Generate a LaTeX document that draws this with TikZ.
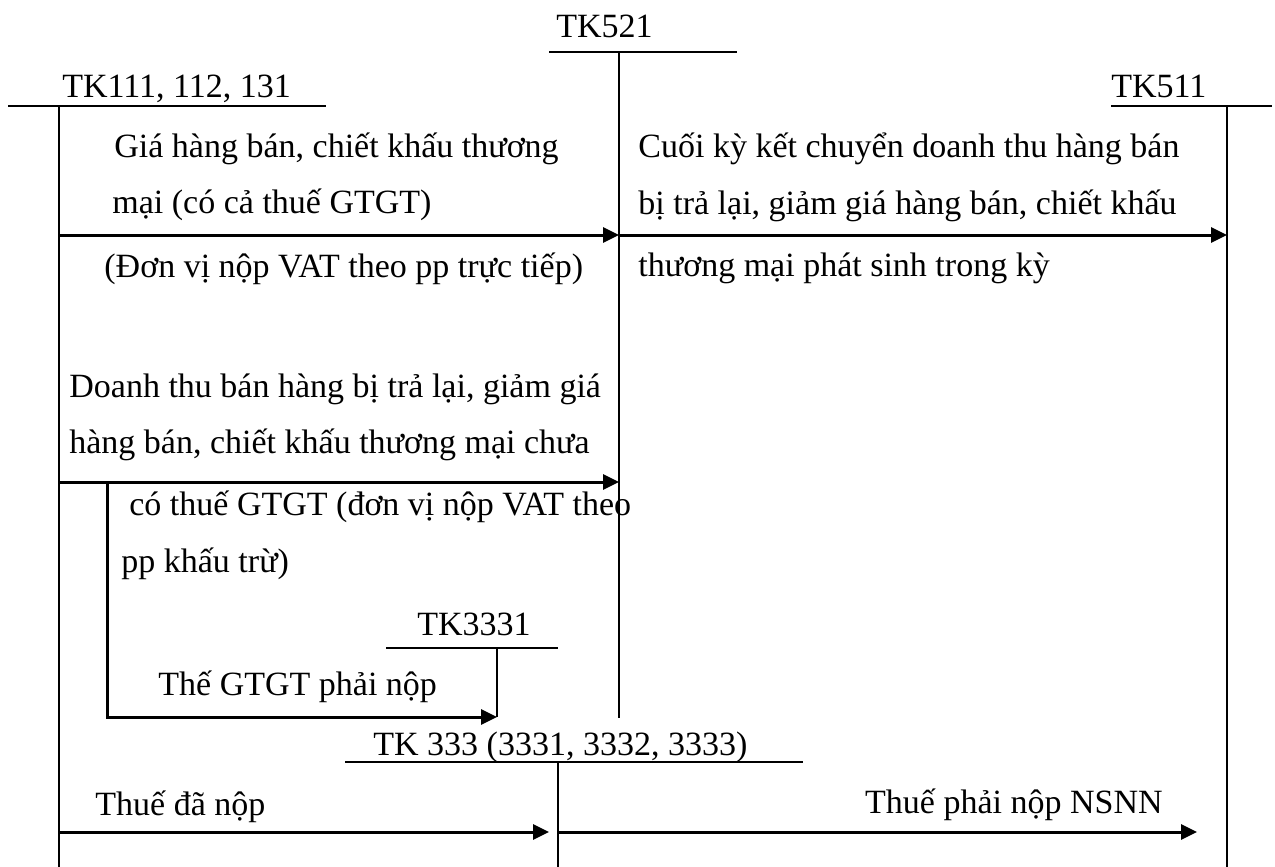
\documentclass[tikz,border=0pt]{standalone}
\usepackage{fontspec}
\setmainfont{Liberation Serif}
\usetikzlibrary{arrows.meta}
\begin{document}
\begin{tikzpicture}[x=0.5pt,y=-0.5pt,
  txt/.style={font=\fontsize{17}{20}\selectfont, inner sep=0pt, anchor=base west},
  acct/.style={line width=1pt},
  flow/.style={line width=1.5pt, -{Triangle[length=8pt,width=7.5pt]}},
  plain/.style={line width=1.5pt}]
\useasboundingbox (0,0) rectangle (1275,867);
% ---- T accounts
% TK521
\coordinate (t521l) at (549,52); \coordinate (t521r) at (737,52);
\coordinate (t521t) at (619,52); \coordinate (t521b) at (619,718);
\draw[acct] (t521l) -- (t521r);
\draw[acct] (t521t) -- (t521b);
\node[txt] (l521) at (556,37) {TK521};
% TK111
\coordinate (t111l) at (8,106); \coordinate (t111r) at (326,106);
\coordinate (t111t) at (59,106); \coordinate (t111b) at (59,867);
\draw[acct] (t111l) -- (t111r);
\draw[acct] (t111t) -- (t111b);
\node[txt] (l111) at (62,97) {TK111, 112, 131};
% TK511
\coordinate (t511l) at (1111,106); \coordinate (t511r) at (1272,106);
\coordinate (t511t) at (1227,106); \coordinate (t511b) at (1227,867);
\draw[acct] (t511l) -- (t511r);
\draw[acct] (t511t) -- (t511b);
\node[txt] (l511) at (1111,97) {TK511};
% TK3331
\coordinate (t3331l) at (386,648); \coordinate (t3331r) at (558,648);
\coordinate (t3331t) at (497,648); \coordinate (t3331b) at (497,717);
\draw[acct] (t3331l) -- (t3331r);
\draw[acct] (t3331t) -- (t3331b);
\node[txt] (l3331) at (417,635) {TK3331};
% TK333
\coordinate (t333l) at (345,762); \coordinate (t333r) at (803,762);
\coordinate (t333t) at (558,762); \coordinate (t333b) at (558,867);
\draw[acct] (t333l) -- (t333r);
\draw[acct] (t333t) -- (t333b);
\node[txt] (l333) at (373,755) {TK 333 (3331, 3332, 3333)};
% ---- flows
\coordinate (a1s) at (59,235); \coordinate (a1e) at (619,235);
\draw[flow] (a1s) -- (a1e);
\coordinate (a2e) at (1227,235);
\draw[flow] (a1e) -- (a2e);
\coordinate (a3s) at (59,482); \coordinate (a3e) at (619,482);
\draw[flow] (a3s) -- (a3e);
\coordinate (b1) at (107,482); \coordinate (b2) at (107,717);
\draw[plain] (b1) -- (b2) -- (t3331b) [flow];
\coordinate (a5s) at (59,832); \coordinate (a5e) at (549,832);
\draw[flow] (a5s) -- (a5e);
\coordinate (a6s) at (558,832); \coordinate (a6e) at (1197,832);
\draw[flow] (a6s) -- (a6e);
% ---- texts
\node[txt] (g1) at (114,157) {Giá hàng bán, chiết khấu thương};
\node[txt] (g2) at (112,213) {mại (có cả thuế GTGT)};
\node[txt] (g3) at (104,277) {(Đơn vị nộp VAT theo pp trực tiếp)};
\node[txt] (c1) at (638,157) {Cuối kỳ kết chuyển doanh thu hàng bán};
\node[txt] (c2) at (638,214) {bị trả lại, giảm giá hàng bán, chiết khấu};
\node[txt] (c3) at (638,276) {thương mại phát sinh trong kỳ};
\node[txt] (d1) at (69,397) {Doanh thu bán hàng bị trả lại, giảm giá};
\node[txt] (d2) at (69,453) {hàng bán, chiết khấu thương mại chưa};
\node[txt] (d3) at (129,515) {có thuế GTGT (đơn vị nộp VAT theo};
\node[txt] (d4) at (121,572) {pp khấu trừ)};
\node[txt] (e1) at (158,695) {Thế GTGT phải nộp};
\node[txt] (f1) at (95,815) {Thuế đã nộp};
\node[txt, anchor=base east] (f2) at (1163,813) {Thuế phải nộp NSNN};
\end{tikzpicture}
\end{document}
